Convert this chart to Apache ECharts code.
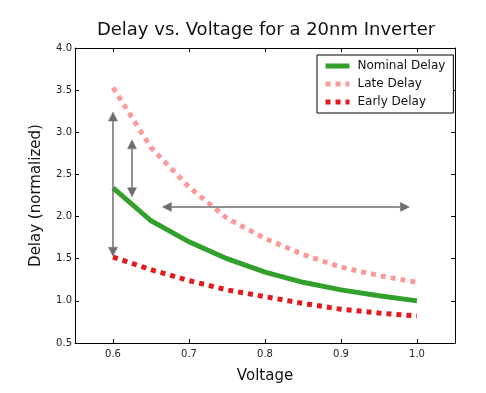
<!DOCTYPE html>
<html>
<head>
<meta charset="utf-8">
<script src="https://cdn.jsdelivr.net/npm/echarts@6/dist/echarts.min.js"></script>
<style>html,body{margin:0;padding:0;background:#fff;}#c{width:486px;height:393px;}</style>
</head>
<body>
<div id="c"></div>
<script>
var voltage = [0.6, 0.65, 0.7, 0.75, 0.8, 0.85, 0.9, 0.95, 1.0];
var nominalDelay = [2.34, 1.95, 1.70, 1.50, 1.34, 1.22, 1.13, 1.06, 1.00];
var lateDelay = [3.53, 2.82, 2.35, 1.98, 1.74, 1.55, 1.40, 1.30, 1.22];
var earlyDelay = [1.52, 1.37, 1.24, 1.13, 1.05, 0.97, 0.90, 0.855, 0.82];
var xTicks = [0.6, 0.7, 0.8, 0.9, 1.0];
var yTicks = [0.5, 1.0, 1.5, 2.0, 2.5, 3.0, 3.5, 4.0];
// double-headed arrows: [x1, y1, x2, y2] (tips, in data units)
var arrows = [
  [0.6, 1.53, 0.6, 3.24],
  [0.625, 2.235, 0.625, 2.91],
  [0.665, 2.115, 0.99, 2.115]
];

function pairs(xs, ys){ return xs.map(function(x,i){return [x, ys[i]];}); }

var FONT = 'DejaVu Sans';
var chart = echarts.init(document.getElementById('c'), null, {renderer:'canvas'});

function axisCommon(extra){
  var o = {
    type: 'value',
    splitLine: {show:false},
    axisLine: {show:true, onZero:false, lineStyle:{color:'#000', width:1}},
    axisTick: {show:true, inside:true, length:4, lineStyle:{color:'#000', width:1}},
    axisLabel: {show:true, color:'#222', fontFamily: FONT, fontSize: 10}
  };
  for (var k in extra) o[k] = extra[k];
  return o;
}

var option = {
  animation: false,
  backgroundColor: '#fff',
  title: {
    text: 'Delay vs. Voltage for a 20nm Inverter',
    left: 261, top: 16, textAlign: 'center',
    textStyle: {fontFamily: FONT, fontSize: 18, fontWeight: 'normal', color:'#111'}
  },
  grid: {left: 75, right: 31, top: 48, bottom: 50, containLabel:false},
  legend: {
    orient: 'vertical', left: 317, top: 55,
    itemWidth: 24, itemHeight: 10, itemGap: 6,
    padding: [5, 8, 5, 6],
    borderColor: '#000', borderWidth: 1, borderRadius: 0,
    backgroundColor: '#fff',
    itemStyle: {opacity: 0},
    lineStyle: {width: 5, cap: 'butt'},
    textStyle: {fontFamily: FONT, fontSize: 12, color:'#111', padding: [0,0,0,3]},
    data: ['Nominal Delay', 'Late Delay', 'Early Delay']
  },
  xAxis: [
    axisCommon({
      min: 0.55, max: 1.05, position: 'bottom',
      name: 'Voltage', nameLocation: 'middle', nameGap: 26,
      nameTextStyle: {fontFamily: FONT, fontSize: 15, color:'#111'},
      axisTick: {show:true, inside:true, length:4, customValues: xTicks, lineStyle:{color:'#000'}},
      axisLabel: {show:true, margin: 6, color:'#222', fontFamily: FONT, fontSize: 10, customValues: xTicks,
        formatter: function(v){return v.toFixed(1);}}
    }),
    axisCommon({
      min: 0.55, max: 1.05, position: 'top',
      axisTick: {show:true, inside:true, length:4, customValues: xTicks, lineStyle:{color:'#000'}},
      axisLabel: {show:false}
    })
  ],
  yAxis: [
    axisCommon({
      min: 0.5, max: 4.0, interval: 0.5, position: 'left',
      name: 'Delay (normalized)', nameLocation: 'middle', nameGap: 31,
      nameTextStyle: {fontFamily: FONT, fontSize: 15, color:'#111'},
      axisLabel: {show:true, margin: 3, color:'#222', fontFamily: FONT, fontSize: 10,
        formatter: function(v){return v.toFixed(1);}}
    }),
    axisCommon({
      min: 0.5, max: 4.0, interval: 0.5, position: 'right',
      axisLabel: {show:false}
    })
  ],
  series: [
    {
      name: 'Nominal Delay', type: 'line', symbol: 'none', smooth: false,
      xAxisIndex: 0, yAxisIndex: 0, z: 2,
      itemStyle: {color: '#33a02c'},
      lineStyle: {color: '#33a02c', width: 5, cap: 'butt', join: 'miter'},
      data: pairs(voltage, nominalDelay)
    },
    {
      name: 'Late Delay', type: 'line', symbol: 'none', smooth: false,
      xAxisIndex: 0, yAxisIndex: 0, z: 3,
      itemStyle: {color: '#fb9a99'},
      lineStyle: {color: '#fb9a99', width: 5, type: [5, 5], cap: 'butt'},
      data: pairs(voltage, lateDelay)
    },
    {
      name: 'Early Delay', type: 'line', symbol: 'none', smooth: false,
      xAxisIndex: 0, yAxisIndex: 0, z: 4,
      itemStyle: {color: '#e31a1c'},
      lineStyle: {color: '#e31a1c', width: 5, type: [5, 5], cap: 'butt'},
      data: pairs(voltage, earlyDelay)
    },
    {
      name: 'arrows', type: 'custom', xAxisIndex: 0, yAxisIndex: 0, z: 10,
      silent: true,
      encode: {x: [0, 2], y: [1, 3]},
      data: arrows,
      renderItem: function(params, api){
        var p1 = api.coord([api.value(0), api.value(1)]);
        var p2 = api.coord([api.value(2), api.value(3)]);
        var dx = p2[0]-p1[0], dy = p2[1]-p1[1];
        var len = Math.sqrt(dx*dx+dy*dy);
        var ux = dx/len, uy = dy/len;
        var px = -uy, py = ux;
        var hl = 9, hw = 4.5;
        var col = '#6e6e6e';
        function head(tip, dir){
          var bx = tip[0] - dir[0]*hl, by = tip[1] - dir[1]*hl;
          return {type:'polygon', shape:{points:[tip, [bx+px*hw, by+py*hw], [bx-px*hw, by-py*hw]]},
            style:{fill: col, stroke: col, lineWidth: 0.5}};
        }
        return {type:'group', children:[
          {type:'line', shape:{x1:p1[0]+ux*hl, y1:p1[1]+uy*hl, x2:p2[0]-ux*hl, y2:p2[1]-uy*hl},
            style:{stroke: col, lineWidth: 1.5}},
          head(p1, [-ux, -uy]),
          head(p2, [ux, uy])
        ]};
      }
    }
  ]
};
chart.setOption(option);
</script>
</body>
</html>
